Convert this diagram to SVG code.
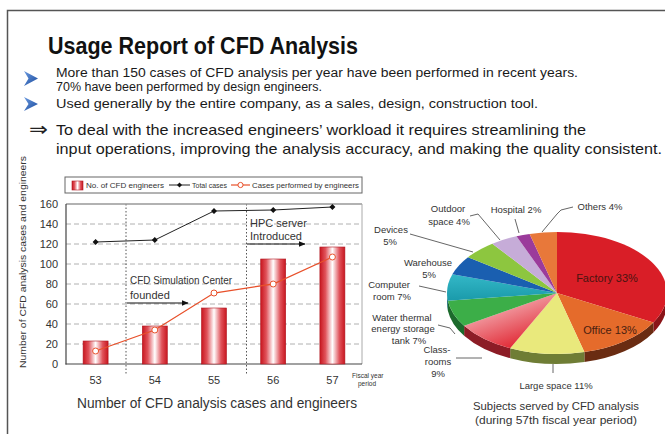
<svg xmlns="http://www.w3.org/2000/svg" width="665" height="434" viewBox="0 0 665 434">
<style>
  text { font-family: "Liberation Sans", Arial, sans-serif; fill: #222; }
  .hd { font-size: 12.5px; fill: #1a1a1a; }
  .big { font-size: 15px; fill: #1a1a1a; }
  .tick { font-size: 11px; text-anchor: end; fill: #333; }
  .cat { font-size: 11px; text-anchor: middle; fill: #333; }
  .lg { font-size: 7.5px; fill: #333; }
  .ann { font-size: 11px; fill: #333; }
  .pl { font-size: 9.5px; fill: #333; text-anchor: middle; }
  .grid { stroke: #b0b0b0; stroke-width: 1; stroke-dasharray: 5 3; fill: none; }
  .vdot { stroke: #555; stroke-width: 1; stroke-dasharray: 1.5 2; fill: none; }
  .lead { stroke: #555; stroke-width: 0.9; fill: none; }
  .bar { fill: url(#barGrad); stroke: #b01822; stroke-width: 0.6; }
</style>
<defs>
  <linearGradient id="barGrad" x1="0" y1="0" x2="1" y2="0">
    <stop offset="0" stop-color="#c8161f"/>
    <stop offset="0.22" stop-color="#e0525a"/>
    <stop offset="0.5" stop-color="#ffffff"/>
    <stop offset="0.78" stop-color="#e0525a"/>
    <stop offset="1" stop-color="#c8161f"/>
  </linearGradient>
  <linearGradient id="bulGrad" x1="0" y1="0" x2="1" y2="1">
    <stop offset="0" stop-color="#6a9ae0"/>
    <stop offset="1" stop-color="#1a4a9c"/>
  </linearGradient>
  <linearGradient id="classGrad" x1="0" y1="0" x2="0.6" y2="1">
    <stop offset="0" stop-color="#fbe3e6"/>
    <stop offset="1" stop-color="#e0222e"/>
  </linearGradient>
  <linearGradient id="compGrad" x1="0" y1="0" x2="0" y2="1">
    <stop offset="0" stop-color="#34b8c8"/>
    <stop offset="1" stop-color="#1a9aaa"/>
  </linearGradient>
  <marker id="arr" viewBox="0 0 10 10" refX="9" refY="5" markerWidth="6" markerHeight="6" orient="auto">
    <path d="M0,1 L10,5 L0,9 Z" fill="#111"/>
  </marker>
</defs>

<rect x="0" y="0" width="665" height="434" fill="#ffffff"/>
<!-- frame -->
<path d="M7.5,434 L7.5,10.5 L665,10.5" fill="none" stroke="#555" stroke-width="1.5"/>

<!-- header -->
<g id="header">
  <text x="48" y="54" font-size="24" font-weight="bold" textLength="310" lengthAdjust="spacingAndGlyphs" style="fill:#111">Usage Report of CFD Analysis</text>
  <path d="M24,71 L38,78.5 L24,86 L28.5,78.5 Z" fill="url(#bulGrad)"/>
  <text class="hd" x="56" y="77" textLength="522" lengthAdjust="spacingAndGlyphs">More than 150 cases of CFD analysis per year have been performed in recent years.</text>
  <text class="hd" x="56" y="91" textLength="266" lengthAdjust="spacingAndGlyphs">70% have been performed by design engineers.</text>
  <path d="M24,97 L38,104 L24,111 L28.5,104 Z" fill="url(#bulGrad)"/>
  <text class="hd" x="56" y="108" textLength="482" lengthAdjust="spacingAndGlyphs">Used generally by the entire company, as a sales, design, construction tool.</text>
  <text x="29" y="136" font-size="20" textLength="19" lengthAdjust="spacingAndGlyphs" style="font-family:'DejaVu Sans',sans-serif;fill:#222">⇒</text>
  <text class="big" x="56" y="135" textLength="530" lengthAdjust="spacingAndGlyphs">To deal with the increased engineers’ workload it requires streamlining the</text>
  <text class="big" x="56" y="154" textLength="606" lengthAdjust="spacingAndGlyphs">input operations, improving the analysis accuracy, and making the quality consistent.</text>
</g>

<!-- bar/line chart -->
<g id="chart">
  <text x="0" y="0" font-size="9.5" text-anchor="middle" transform="translate(26,262) rotate(-90)" textLength="212" lengthAdjust="spacingAndGlyphs" style="fill:#333">Number of CFD analysis cases and engineers</text>
  <!-- legend -->
  <g id="legend">
    <rect x="65" y="177" width="297" height="16" fill="#fff" stroke="#666" stroke-width="1"/>
    <rect x="72" y="181" width="11" height="9" class="bar"/>
    <text class="lg" x="86" y="188" textLength="78" lengthAdjust="spacingAndGlyphs">No. of CFD engineers</text>
    <line x1="169" y1="185" x2="190" y2="185" stroke="#222" stroke-width="1"/>
    <path d="M179.5,182.5 L182,185 L179.5,187.5 L177,185 Z" fill="#111"/>
    <text class="lg" x="192" y="188" textLength="35" lengthAdjust="spacingAndGlyphs">Total cases</text>
    <line x1="231" y1="185" x2="250" y2="185" stroke="#e8502a" stroke-width="1.2"/>
    <circle cx="240.5" cy="185" r="2.6" fill="#fff" stroke="#e8502a" stroke-width="1"/>
    <text class="lg" x="252" y="188" textLength="107" lengthAdjust="spacingAndGlyphs">Cases performed by engineers</text>
  </g>
  <!-- grid -->
  <g id="grid">
    <line class="grid" x1="66" y1="224" x2="362" y2="224"/>
    <line class="grid" x1="66" y1="244" x2="362" y2="244"/>
    <line class="grid" x1="66" y1="264" x2="362" y2="264"/>
    <line class="grid" x1="66" y1="284" x2="362" y2="284"/>
    <line class="grid" x1="66" y1="304" x2="362" y2="304"/>
    <line class="grid" x1="66" y1="324" x2="362" y2="324"/>
    <line class="grid" x1="66" y1="344" x2="362" y2="344"/>
    <line class="vdot" x1="126" y1="204" x2="126" y2="375"/>
    <line class="vdot" x1="246.5" y1="204" x2="246.5" y2="375"/>
  </g>
  <!-- plot frame -->
  <line x1="66" y1="204" x2="362" y2="204" stroke="#999" stroke-width="1.5"/>
  <line x1="362" y1="204" x2="362" y2="364" stroke="#aaa" stroke-width="1"/>
  <line x1="66" y1="204" x2="66" y2="364.5" stroke="#444" stroke-width="1.2"/>
  <line x1="65.5" y1="364" x2="362" y2="364" stroke="#444" stroke-width="1.2"/>
  <!-- y ticks -->
  <g id="yticks">
    <text class="tick" x="58" y="208">160</text>
    <text class="tick" x="58" y="228">140</text>
    <text class="tick" x="58" y="248">120</text>
    <text class="tick" x="58" y="268">100</text>
    <text class="tick" x="58" y="288">80</text>
    <text class="tick" x="58" y="308">60</text>
    <text class="tick" x="58" y="328">40</text>
    <text class="tick" x="58" y="348">20</text>
    <text class="tick" x="58" y="368">0</text>
  </g>
  <!-- bars -->
  <g id="bars">
    <rect class="bar" x="83.1" y="341" width="25" height="23"/>
    <rect class="bar" x="142.3" y="326" width="25" height="38"/>
    <rect class="bar" x="201.5" y="308" width="25" height="56"/>
    <rect class="bar" x="260.7" y="259" width="25" height="105"/>
    <rect class="bar" x="319.9" y="247" width="25" height="117"/>
  </g>
  <!-- total cases line -->
  <g id="total-line">
    <polyline points="95.6,242 154.8,240 214,211 273.2,210 332.4,207" fill="none" stroke="#222" stroke-width="1"/>
    <path d="M95.6,239 L98.6,242 L95.6,245 L92.6,242 Z M154.8,237 L157.8,240 L154.8,243 L151.8,240 Z M214,208 L217,211 L214,214 L211,211 Z M273.2,207 L276.2,210 L273.2,213 L270.2,210 Z M332.4,204 L335.4,207 L332.4,210 L329.4,207 Z" fill="#111"/>
  </g>
  <!-- engineer cases line -->
  <g id="eng-line">
    <polyline points="95.6,351 154.8,330 214,293 273.2,284 332.4,257" fill="none" stroke="#e8502a" stroke-width="1.3"/>
    <circle cx="95.6" cy="351" r="3" fill="#fff" stroke="#e8502a" stroke-width="1"/>
    <circle cx="154.8" cy="330" r="3" fill="#fff" stroke="#e8502a" stroke-width="1"/>
    <circle cx="214" cy="293" r="3" fill="#fff" stroke="#e8502a" stroke-width="1"/>
    <circle cx="273.2" cy="284" r="3" fill="#fff" stroke="#e8502a" stroke-width="1"/>
    <circle cx="332.4" cy="257" r="3" fill="#fff" stroke="#e8502a" stroke-width="1"/>
  </g>
  <!-- annotations -->
  <g id="ann-cfd">
    <text class="ann" x="130" y="284" textLength="102" lengthAdjust="spacingAndGlyphs">CFD Simulation Center</text>
    <text class="ann" x="130" y="299">founded</text>
    <line x1="127" y1="303" x2="188" y2="303" stroke="#111" stroke-width="1.2" marker-end="url(#arr)"/>
  </g>
  <g id="ann-hpc">
    <text class="ann" x="250" y="227">HPC server</text>
    <text class="ann" x="250" y="240">Introduced</text>
    <line x1="247" y1="244" x2="305" y2="244" stroke="#111" stroke-width="1.2" marker-end="url(#arr)"/>
  </g>
  <!-- x categories -->
  <g id="xcats">
    <text class="cat" x="95.6" y="384">53</text>
    <text class="cat" x="154.8" y="384">54</text>
    <text class="cat" x="214" y="384">55</text>
    <text class="cat" x="273.2" y="384">56</text>
    <text class="cat" x="332.4" y="384">57</text>
    <text x="352" y="378" font-size="6.5" style="fill:#333">Fiscal year</text>
    <text x="358" y="386" font-size="6.5" style="fill:#333">period</text>
  </g>
  <text x="77" y="408" font-size="14" textLength="280" lengthAdjust="spacingAndGlyphs" style="fill:#333">Number of CFD analysis cases and engineers</text>
</g>

<!-- pie chart -->
<g id="pie">
  <!-- sides -->
  <g id="pie-sides">
    <path d="M667,293 A110,61 0 0 1 653.39,322.39 L653.39,332.39 A110,61 0 0 0 667,303 Z" fill="#8a1418"/>
    <path d="M653.39,322.39 A110,61 0 0 1 584.36,352.08 L584.36,362.08 A110,61 0 0 0 653.39,332.39 Z" fill="#6a2c12"/>
    <path d="M584.36,352.08 A110,61 0 0 1 510.16,348.19 L510.16,358.19 A110,61 0 0 0 584.36,362.08 Z" fill="#6f7d35"/>
    <path d="M510.16,348.19 A110,61 0 0 1 464.13,325.69 L464.13,335.69 A110,61 0 0 0 510.16,358.19 Z" fill="#8c1c26"/>
    <path d="M464.13,325.69 A110,61 0 0 1 447.87,300.65 L447.87,310.65 A110,61 0 0 0 464.13,335.69 Z" fill="#1c6a2c"/>
    <path d="M447.87,300.65 A110,61 0 0 1 447,293 L447,303 A110,61 0 0 0 447.87,310.65 Z" fill="#136870"/>
  </g>
  <g id="slice-factory"><path d="M557,293 L557,232 A110,61 0 0 1 653.39,322.39 Z" fill="#d91e27"/>
    <text x="607" y="282" font-size="11" text-anchor="middle" style="fill:#4a1410">Factory 33%</text></g>
  <g id="slice-office"><path d="M557,293 L653.39,322.39 A110,61 0 0 1 584.36,352.08 Z" fill="#e56b2b"/>
    <text x="610" y="334" font-size="11" text-anchor="middle" style="fill:#4a1e10">Office 13%</text></g>
  <g id="slice-large"><path d="M557,293 L584.36,352.08 A110,61 0 0 1 510.16,348.19 Z" fill="#e9e97c"/></g>
  <g id="slice-class"><path d="M557,293 L510.16,348.19 A110,61 0 0 1 464.13,325.69 Z" fill="url(#classGrad)"/></g>
  <g id="slice-water"><path d="M557,293 L464.13,325.69 A110,61 0 0 1 447.87,300.65 Z" fill="#3cae48"/></g>
  <g id="slice-computer"><path d="M557,293 L447.87,300.65 A110,61 0 0 1 452.38,274.15 Z" fill="url(#compGrad)"/></g>
  <g id="slice-warehouse"><path d="M557,293 L452.38,274.15 A110,61 0 0 1 468.01,257.14 Z" fill="#1a5fb0"/></g>
  <g id="slice-devices"><path d="M557,293 L468.01,257.14 A110,61 0 0 1 492.34,243.65 Z" fill="#8dc63f"/></g>
  <g id="slice-outdoor"><path d="M557,293 L492.34,243.65 A110,61 0 0 1 516.51,236.28 Z" fill="#c6acd8"/></g>
  <g id="slice-hospital"><path d="M557,293 L516.51,236.28 A110,61 0 0 1 529.64,233.91 Z" fill="#9b3b9b"/></g>
  <g id="slice-others"><path d="M557,293 L529.64,233.91 A110,61 0 0 1 557,232 Z" fill="#e8783a"/></g>
</g>

<!-- pie labels and leaders -->
<g id="pie-labels">
  <g id="lbl-outdoor">
    <text class="pl" x="448" y="212">Outdoor</text>
    <text class="pl" x="449" y="225">space 4%</text>
  </g>
  <g id="lbl-hospital"><text class="pl" x="516" y="213">Hospital 2%</text></g>
  <g id="lbl-others"><text class="pl" x="600" y="210">Others 4%</text></g>
  <g id="lbl-devices">
    <text class="pl" x="391" y="233">Devices</text>
    <text class="pl" x="390" y="245">5%</text>
  </g>
  <g id="lbl-warehouse">
    <text class="pl" x="428" y="266">Warehouse</text>
    <text class="pl" x="429" y="278">5%</text>
  </g>
  <g id="lbl-computer">
    <text class="pl" x="389" y="288">Computer</text>
    <text class="pl" x="392" y="300">room 7%</text>
  </g>
  <g id="lbl-water">
    <text class="pl" x="402" y="321">Water thermal</text>
    <text class="pl" x="403" y="332">energy storage</text>
    <text class="pl" x="409" y="344">tank 7%</text>
  </g>
  <g id="lbl-class">
    <text class="pl" x="437" y="353">Class-</text>
    <text class="pl" x="438" y="365">rooms</text>
    <text class="pl" x="438" y="377">9%</text>
  </g>
  <g id="lbl-large"><text class="pl" x="556" y="389" font-size="10">Large space 11%</text></g>
  <g id="leaders">
    <path class="lead" d="M470,216 L478,214 L500,240"/>
    <path class="lead" d="M515,219 L519,233"/>
    <path class="lead" d="M573,207 L561,210 L557,214 L542,232"/>
    <path class="lead" d="M410,234 L473,252"/>
    <path class="lead" d="M419,286 L446,292"/>
    <path class="lead" d="M438,325 L450,328 L455,334"/>
    <path class="lead" d="M456,358 L482,358"/>
    <path class="lead" d="M553,364 L553,373"/>
  </g>
  <text x="556" y="410" font-size="10.5" text-anchor="middle" textLength="166" lengthAdjust="spacingAndGlyphs" style="fill:#333">Subjects served by CFD analysis</text>
  <text x="556" y="424" font-size="10.5" text-anchor="middle" textLength="162" lengthAdjust="spacingAndGlyphs" style="fill:#333">(during 57th fiscal year period)</text>
</g>
</svg>
